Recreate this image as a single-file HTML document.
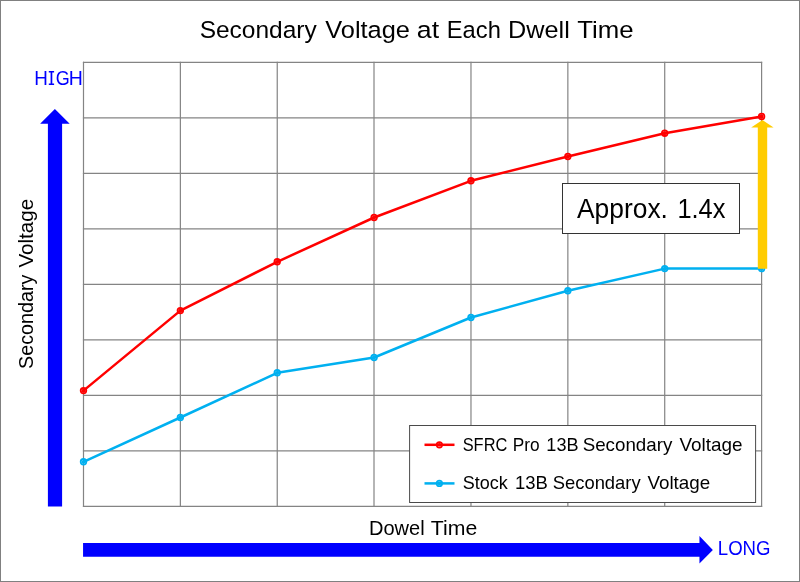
<!DOCTYPE html>
<html>
<head>
<meta charset="utf-8">
<style>
html,body{margin:0;padding:0;background:#fff;}
body{width:800px;height:582px;overflow:hidden;}
svg{display:block;will-change:transform;}
text{font-family:"Liberation Sans", sans-serif;}
</style>
</head>
<body>
<svg width="800" height="582" viewBox="0 0 800 582">
  <rect x="0" y="0" width="800" height="582" fill="#ffffff"/>
  <rect x="0.5" y="0.5" width="799" height="581" fill="none" stroke="#808080" stroke-width="1"/>

  <!-- title -->
  <text x="199.63" y="37.6" font-size="24.5" fill="#000000" textLength="117.17" lengthAdjust="spacingAndGlyphs">Secondary</text>
  <text x="325.26" y="37.6" font-size="24.5" fill="#000000" textLength="84.7" lengthAdjust="spacingAndGlyphs">Voltage</text>
  <text x="416.83" y="37.6" font-size="24.5" fill="#000000" textLength="22.28" lengthAdjust="spacingAndGlyphs">at</text>
  <text x="446.82" y="37.6" font-size="24.5" fill="#000000" textLength="54.03" lengthAdjust="spacingAndGlyphs">Each</text>
  <text x="508.05" y="37.6" font-size="24.5" fill="#000000" textLength="61.7" lengthAdjust="spacingAndGlyphs">Dwell</text>
  <text x="577.18" y="37.6" font-size="24.5" fill="#000000" textLength="56.32" lengthAdjust="spacingAndGlyphs">Time</text>

  <!-- grid -->
  <g stroke="#848484" stroke-width="1.2" fill="none" stroke-linecap="square">
    <line x1="83.5" y1="62.4" x2="83.5" y2="506.4"/>
    <line x1="180.37" y1="62.4" x2="180.37" y2="506.4"/>
    <line x1="277.24" y1="62.4" x2="277.24" y2="506.4"/>
    <line x1="374.0" y1="62.4" x2="374.0" y2="506.4"/>
    <line x1="470.98" y1="62.4" x2="470.98" y2="506.4"/>
    <line x1="567.85" y1="62.4" x2="567.85" y2="506.4"/>
    <line x1="664.72" y1="62.4" x2="664.72" y2="506.4"/>
    <line x1="761.6" y1="62.4" x2="761.6" y2="506.4"/>
    <line x1="83.5" y1="62.4" x2="761.6" y2="62.4"/>
    <line x1="83.5" y1="117.9" x2="761.6" y2="117.9"/>
    <line x1="83.5" y1="173.4" x2="761.6" y2="173.4"/>
    <line x1="83.5" y1="228.9" x2="761.6" y2="228.9"/>
    <line x1="83.5" y1="284.4" x2="761.6" y2="284.4"/>
    <line x1="83.5" y1="339.9" x2="761.6" y2="339.9"/>
    <line x1="83.5" y1="395.4" x2="761.6" y2="395.4"/>
    <line x1="83.5" y1="450.9" x2="761.6" y2="450.9"/>
    <line x1="83.5" y1="506.4" x2="761.6" y2="506.4"/>
  </g>

  <!-- red series -->
  <polyline fill="none" stroke="#ff0000" stroke-width="2.5" stroke-linejoin="round"
    points="83.5,390.6 180.37,310.6 277.24,261.8 374.11,217.5 470.98,180.8 567.85,156.5 664.72,133.2 761.6,116.5"/>
  <g fill="#ff0000" stroke="#ff0000">
    <circle cx="83.5" cy="390.6" r="1.9" stroke="none"/><circle cx="83.5" cy="390.6" r="2.8" fill="none" stroke-width="1.8"/>
    <circle cx="180.37" cy="310.6" r="1.9" stroke="none"/><circle cx="180.37" cy="310.6" r="2.8" fill="none" stroke-width="1.8"/>
    <circle cx="277.24" cy="261.8" r="1.9" stroke="none"/><circle cx="277.24" cy="261.8" r="2.8" fill="none" stroke-width="1.8"/>
    <circle cx="374.11" cy="217.5" r="1.9" stroke="none"/><circle cx="374.11" cy="217.5" r="2.8" fill="none" stroke-width="1.8"/>
    <circle cx="470.98" cy="180.8" r="1.9" stroke="none"/><circle cx="470.98" cy="180.8" r="2.8" fill="none" stroke-width="1.8"/>
    <circle cx="567.85" cy="156.5" r="1.9" stroke="none"/><circle cx="567.85" cy="156.5" r="2.8" fill="none" stroke-width="1.8"/>
    <circle cx="664.72" cy="133.2" r="1.9" stroke="none"/><circle cx="664.72" cy="133.2" r="2.8" fill="none" stroke-width="1.8"/>
    <circle cx="761.6" cy="116.5" r="1.9" stroke="none"/><circle cx="761.6" cy="116.5" r="2.8" fill="none" stroke-width="1.8"/>
  </g>

  <!-- blue series -->
  <polyline fill="none" stroke="#00b0f0" stroke-width="2.5" stroke-linejoin="round"
    points="83.5,461.8 180.37,417.5 277.24,372.8 374.11,357.5 470.98,317.5 567.85,290.8 664.72,268.6 761.6,268.6"/>
  <g fill="#00b0f0" stroke="#00b0f0">
    <circle cx="83.5" cy="461.8" r="1.9" stroke="none"/><circle cx="83.5" cy="461.8" r="2.8" fill="none" stroke-width="1.8"/>
    <circle cx="180.37" cy="417.5" r="1.9" stroke="none"/><circle cx="180.37" cy="417.5" r="2.8" fill="none" stroke-width="1.8"/>
    <circle cx="277.24" cy="372.8" r="1.9" stroke="none"/><circle cx="277.24" cy="372.8" r="2.8" fill="none" stroke-width="1.8"/>
    <circle cx="374.11" cy="357.5" r="1.9" stroke="none"/><circle cx="374.11" cy="357.5" r="2.8" fill="none" stroke-width="1.8"/>
    <circle cx="470.98" cy="317.5" r="1.9" stroke="none"/><circle cx="470.98" cy="317.5" r="2.8" fill="none" stroke-width="1.8"/>
    <circle cx="567.85" cy="290.8" r="1.9" stroke="none"/><circle cx="567.85" cy="290.8" r="2.8" fill="none" stroke-width="1.8"/>
    <circle cx="664.72" cy="268.6" r="1.9" stroke="none"/><circle cx="664.72" cy="268.6" r="2.8" fill="none" stroke-width="1.8"/>
    <circle cx="761.6" cy="268.6" r="1.9" stroke="none"/><circle cx="761.6" cy="268.6" r="2.8" fill="none" stroke-width="1.8"/>
  </g>

  <!-- yellow arrow -->
  <polygon fill="#ffcc00" points="762.4,120.1 773.6,127.6 767.2,127.6 767.2,268.8 757.8,268.8 757.8,127.6 751.2,127.6"/>

  <!-- callout -->
  <rect x="562.5" y="183.5" width="177" height="50" fill="#ffffff" stroke="#333333" stroke-width="1"/>
  <text x="577.0" y="217.75" font-size="27.5" fill="#000000" textLength="90.93" lengthAdjust="spacingAndGlyphs">Approx.</text>
  <text x="677.42" y="217.75" font-size="27.5" fill="#000000" textLength="48.02" lengthAdjust="spacingAndGlyphs">1.4x</text>

  <!-- legend -->
  <rect x="409.6" y="425.5" width="346" height="77" fill="#ffffff" stroke="#4a4a4a" stroke-width="1"/>
  <line x1="424.5" y1="444.8" x2="454.5" y2="444.8" stroke="#ff0000" stroke-width="2.5"/>
  <circle cx="439.4" cy="444.8" r="1.8" fill="#ff0000"/><circle cx="439.4" cy="444.8" r="2.75" fill="none" stroke="#ff0000" stroke-width="1.7"/>
  <line x1="424.5" y1="483.4" x2="454.5" y2="483.4" stroke="#00b0f0" stroke-width="2.5"/>
  <circle cx="439.4" cy="483.4" r="1.8" fill="#00b0f0"/><circle cx="439.4" cy="483.4" r="2.75" fill="none" stroke="#00b0f0" stroke-width="1.7"/>
  <text x="462.7" y="451" font-size="17.8" fill="#000000" textLength="44.63" lengthAdjust="spacingAndGlyphs">SFRC</text>
  <text x="512.85" y="451" font-size="17.8" fill="#000000" textLength="26.87" lengthAdjust="spacingAndGlyphs">Pro</text>
  <text x="546.35" y="451" font-size="17.8" fill="#000000" textLength="32.17" lengthAdjust="spacingAndGlyphs">13B</text>
  <text x="582.67" y="451" font-size="17.8" fill="#000000" textLength="89.69" lengthAdjust="spacingAndGlyphs">Secondary</text>
  <text x="679.41" y="451" font-size="17.8" fill="#000000" textLength="63.02" lengthAdjust="spacingAndGlyphs">Voltage</text>
  <text x="462.78" y="489" font-size="17.8" fill="#000000" textLength="45.0" lengthAdjust="spacingAndGlyphs">Stock</text>
  <text x="515.0" y="489" font-size="17.8" fill="#000000" textLength="32.86" lengthAdjust="spacingAndGlyphs">13B</text>
  <text x="552.72" y="489" font-size="17.8" fill="#000000" textLength="87.92" lengthAdjust="spacingAndGlyphs">Secondary</text>
  <text x="647.48" y="489" font-size="17.8" fill="#000000" textLength="62.76" lengthAdjust="spacingAndGlyphs">Voltage</text>

  <!-- axis labels -->
  <text x="34.21" y="84.6" font-size="19.6" fill="#0000ff" textLength="13.63" lengthAdjust="spacingAndGlyphs">H</text>
  <path d="M48.8,71.1 H54.1 V72.6 H52.3 V83.5 H54.1 V85 H48.8 V83.5 H50.6 V72.6 H48.8 Z" fill="#0000ff"/>
  <text x="55.68" y="84.6" font-size="19.6" fill="#0000ff" textLength="14" lengthAdjust="spacingAndGlyphs">G</text>
  <text x="68.8" y="84.6" font-size="19.6" fill="#0000ff" textLength="14.12" lengthAdjust="spacingAndGlyphs">H</text>
  <text transform="translate(33.2,368.88) rotate(-90)" x="0" y="0" font-size="19.6" fill="#000000" textLength="94.24" lengthAdjust="spacingAndGlyphs">Secondary</text>
  <text transform="translate(33.2,267.62) rotate(-90)" x="0" y="0" font-size="19.6" fill="#000000" textLength="68.84" lengthAdjust="spacingAndGlyphs">Voltage</text>
  <text x="368.93" y="534.8" font-size="20.2" fill="#000000" textLength="55.71" lengthAdjust="spacingAndGlyphs">Dowel</text>
  <text x="430.81" y="534.8" font-size="20.2" fill="#000000" textLength="46.43" lengthAdjust="spacingAndGlyphs">Time</text>
  <text x="717.8" y="554.9" font-size="20.3" fill="#0000ff" textLength="52.71" lengthAdjust="spacingAndGlyphs">LONG</text>

  <!-- blue arrows -->
  <polygon fill="#0000ff" points="54.9,108.9 69.7,123.7 62.1,123.7 62.1,506.4 47.9,506.4 47.9,123.7 40.15,123.7"/>
  <polygon fill="#0000ff" points="712.85,549.9 699.45,563.5 699.45,556.7 83.06,556.7 83.06,543.1 699.45,543.1 699.45,536"/>
</svg>
</body>
</html>
